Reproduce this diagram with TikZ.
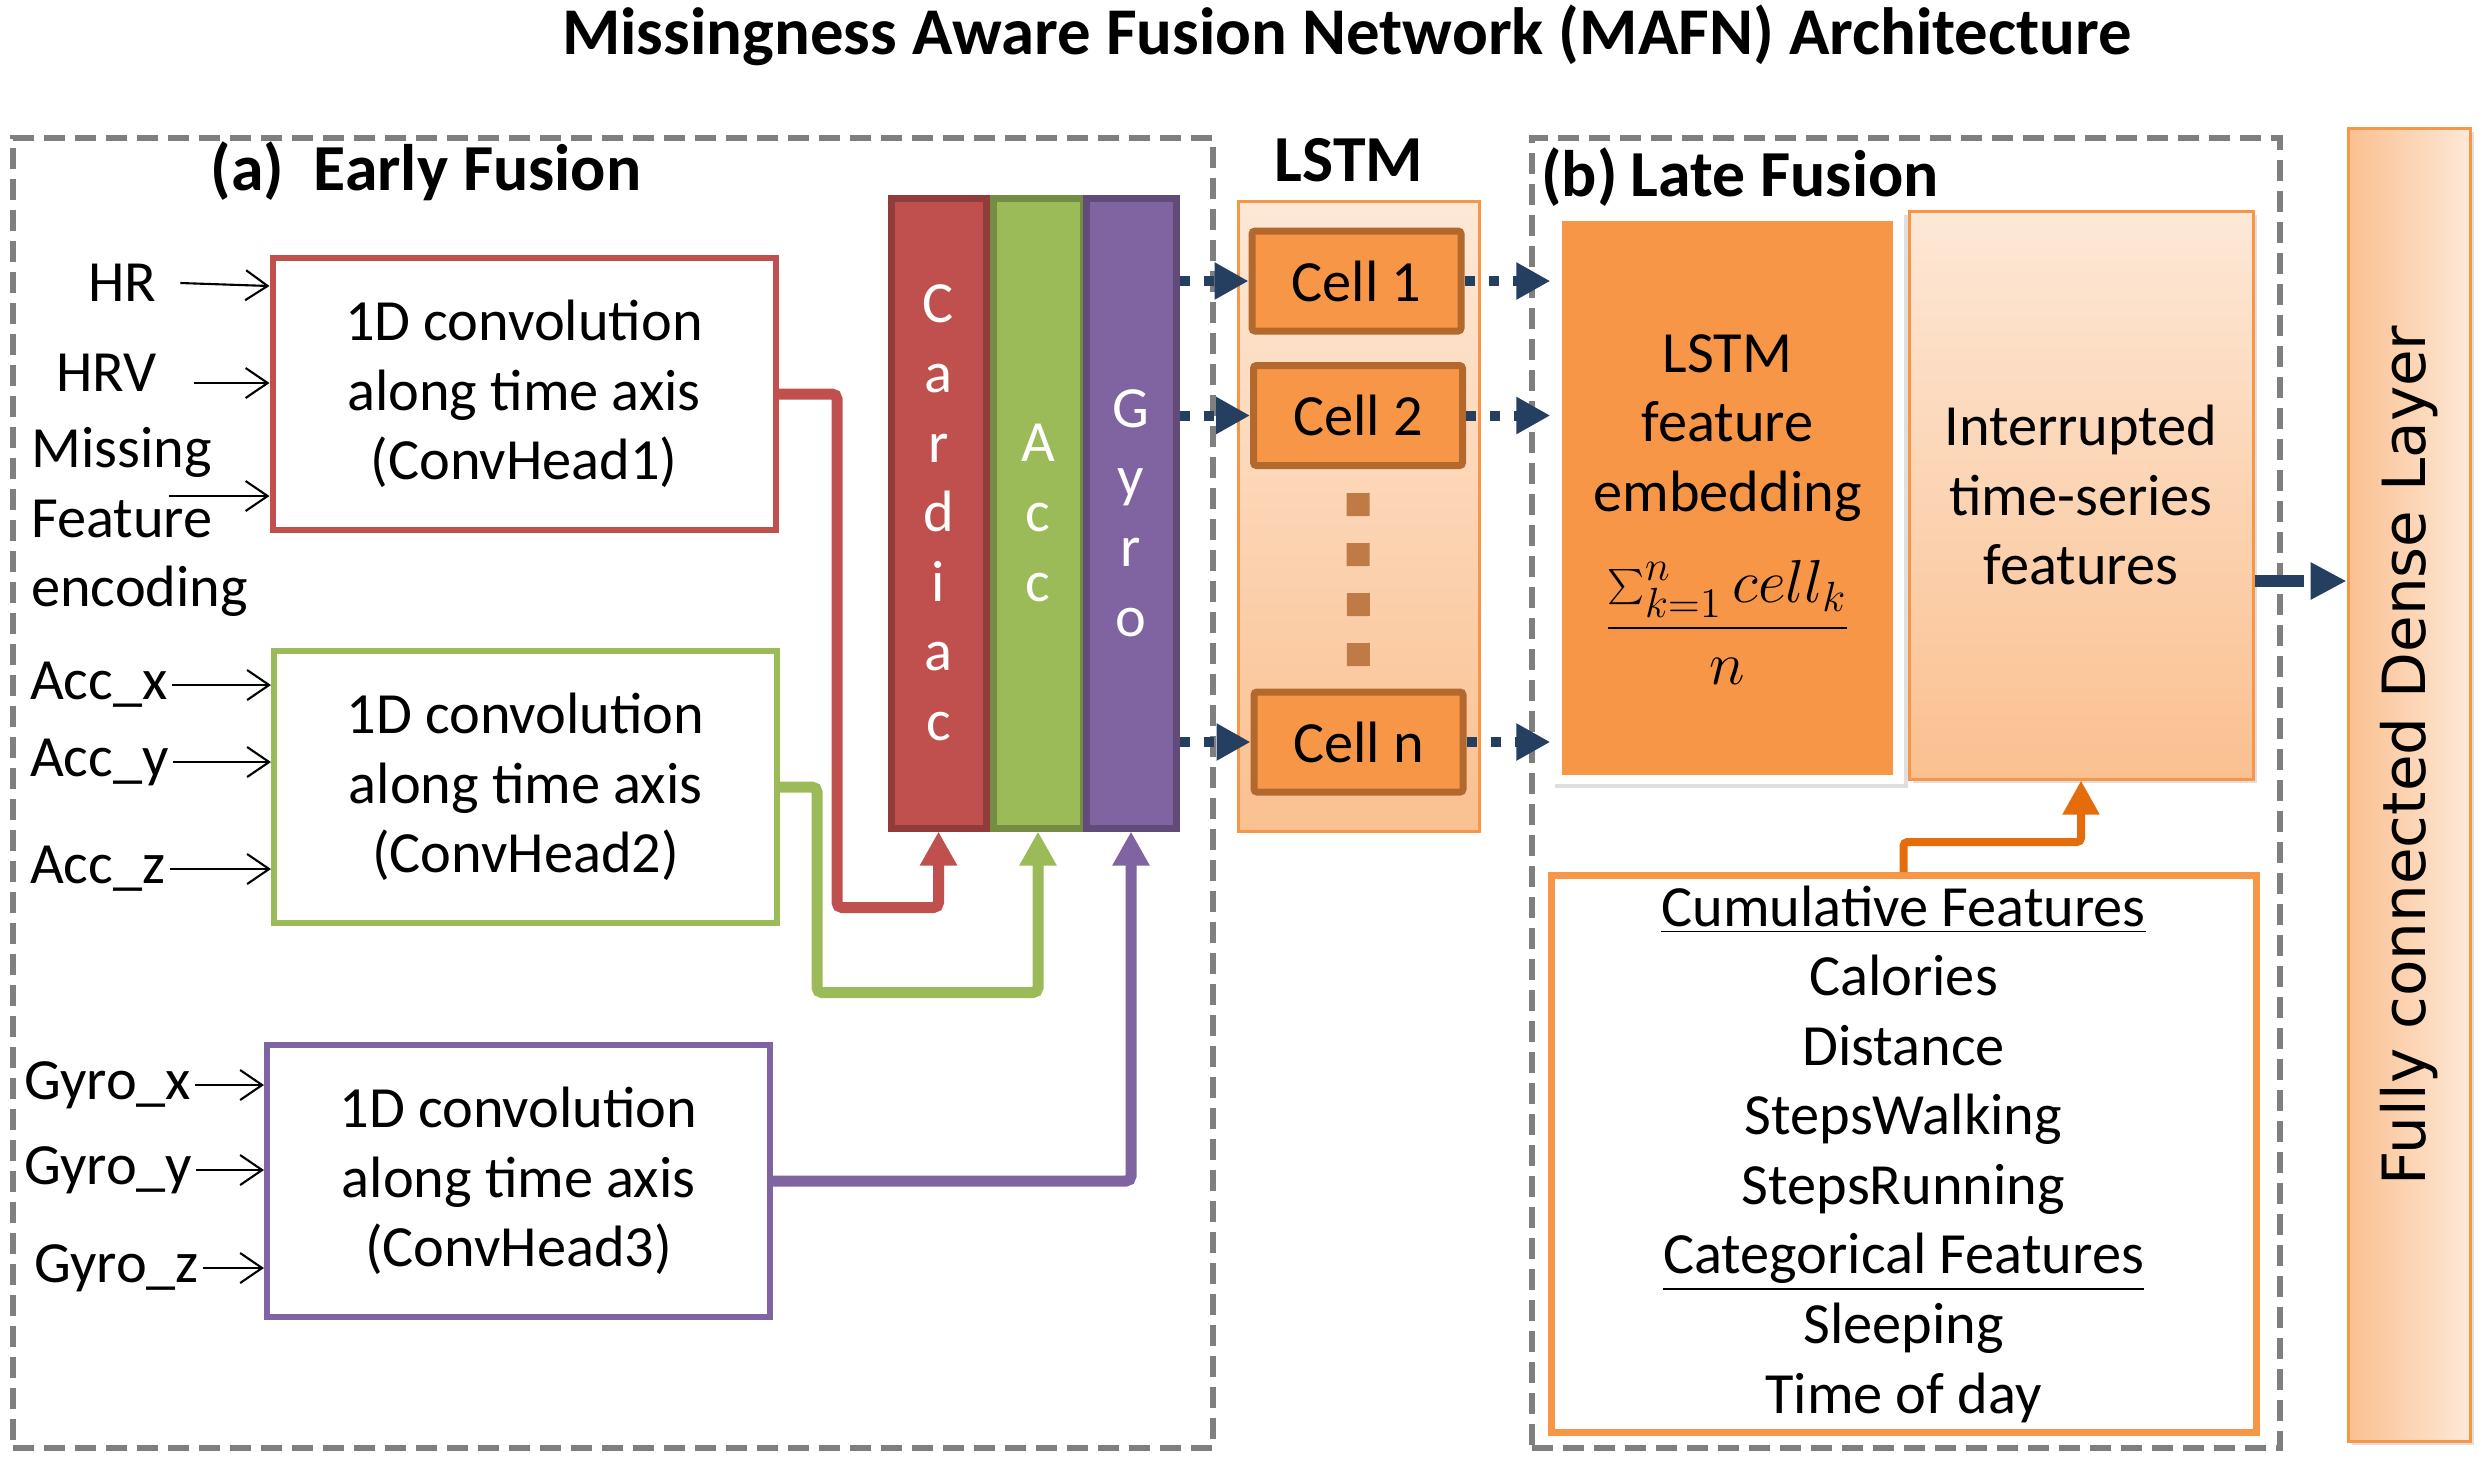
\documentclass[tikz,border=0pt]{standalone}
\usepackage{fontspec}
\setmainfont{Carlito}
\newfontfamily\densefont{DejaVu Sans}
\usetikzlibrary{arrows.meta,calc,positioning,shadows}

\definecolor{cred}{HTML}{C0504D}
\definecolor{cgreen}{HTML}{9BBB59}
\definecolor{cpurple}{HTML}{8064A2}
\definecolor{corange}{HTML}{F79646}
\definecolor{cbrown}{HTML}{B3692D}
\definecolor{cdots}{HTML}{C07A45}
\definecolor{cblue}{HTML}{243F60}
\definecolor{cgrey}{HTML}{7F7F7F}
\definecolor{cdeep}{HTML}{E46C0A}

\begin{document}
\begin{tikzpicture}[font=\fontsize{16.6}{19.8}\selectfont,
                    conv/.style   ={rectangle, draw, line width=0.06cm, fill=white, minimum width=5.03cm, minimum height=2.72cm, align=center, inner sep=0},
                    bar/.style    ={rectangle, line width=0.07cm, minimum width=0.9cm, minimum height=6.3cm, text=white, align=center, inner sep=0},
                    inlbl/.style  ={anchor=west, inner sep=1pt},
                    inarrow/.style={-{Straight Barb[length=0.22cm,width=0.3cm]}, line width=0.6pt},
                    feed/.style   ={-{Triangle[length=0.34cm,width=0.35cm]}, line width=0.11cm, rounded corners=0.05cm},
                    cell/.style   ={rectangle, draw=cbrown, fill=corange, line width=0.07cm, minimum width=2.09cm, minimum height=1.0cm, rounded corners=0.03cm},
                    seq/.style    ={-{Triangle[length=0.34cm,width=0.35cm]}, cblue, line width=0.1cm, dash pattern=on 0.1cm off 0.14cm},
                    zone/.style   ={rectangle, draw=cgrey, line width=0.06cm, dash pattern=on 0.21cm off 0.1cm},
                    soft/.style   ={rectangle, draw=corange, line width=0.03cm, top color=corange!22, bottom color=corange!60},
                    shade/.style  ={drop shadow={opacity=0.25, shadow xshift=0.04cm, shadow yshift=-0.04cm}},
                    heading/.style={font=\fontsize{18.7}{21}\selectfont\bfseries}]

      \useasboundingbox (0, 0) rectangle (24.82, -14.65);
      \node[font=\fontsize{19}{22}\selectfont\bfseries] at(13.47, -0.35) (title) {Missingness Aware Fusion Network (MAFN) Architecture};

      \node[zone, minimum width=12cm, minimum height=13.1cm]   at(6.13, -7.93)  (early)   {};
      \node[heading] at(4.26, -1.71) (earlyttl) {(a)~ Early Fusion};
      \node[conv, draw=cred]    at(5.24, -3.94)  (conv1) {1D convolution\\along time axis\\(ConvHead1)};
      \node[conv, draw=cgreen]  at(5.255,-7.87)  (conv2) {1D convolution\\along time axis\\(ConvHead2)};
      \node[conv, draw=cpurple] at(5.185,-11.81) (conv3) {1D convolution\\along time axis\\(ConvHead3)};

      \node[inlbl] at(0.84, -2.83) (hr)    {HR};
      \node[inlbl] at(0.52, -3.73) (hrv)   {HRV};
      \node[inlbl, align=left] at(0.27, -5.22) (miss) {Missing\\Feature\\encoding};
      \coordinate (missin) at(1.69, -4.96);
      \node[inlbl] at(0.26, -6.85) (accx)  {Acc\_x};
      \node[inlbl] at(0.26, -7.62) (accy)  {Acc\_y};
      \node[inlbl] at(0.26, -8.69) (accz)  {Acc\_z};
      \node[inlbl] at(0.20, -10.85) (gyrx) {Gyro\_x};
      \node[inlbl] at(0.20, -11.70) (gyry) {Gyro\_y};
      \node[inlbl] at(0.30, -12.68) (gyrz) {Gyro\_z};
      \draw[inarrow] ([xshift=0.2cm]hr.east)   -- ([yshift=-0.03cm]hr.east -| conv1.west);
      \draw[inarrow] ([xshift=0.33cm,yshift=-0.1cm]hrv.east) -- ([yshift=-0.1cm]hrv.east -| conv1.west);
      \draw[inarrow] (missin) -- (missin -| conv1.west);
      \draw[inarrow] (accx.east) -- (accx.east -| conv2.west);
      \draw[inarrow] (accy.east) -- (accy.east -| conv2.west);
      \draw[inarrow] (accz.east) -- (accz.east -| conv2.west);
      \draw[inarrow] (gyrx.east) -- (gyrx.east -| conv3.west);
      \draw[inarrow] (gyry.east) -- (gyry.east -| conv3.west);
      \draw[inarrow] (gyrz.east) -- (gyrz.east -| conv3.west);

      \node[bar, draw=cred!75!black, fill=cred, minimum width=0.95cm] at(9.385, -5.13) (card) {C\\a\\r\\d\\i\\a\\c};
      \node[bar, draw=cgreen!75!black, fill=cgreen]   at(10.38, -5.13) (acc)  {A\\c\\c};
      \node[bar, draw=cpurple!75!black, fill=cpurple] at(11.31, -5.13) (gyro) {G\\y\\r\\o};
      \draw[feed, cred]    (conv1.east) -- ++(0.585, 0) |- ($(card.south)+(0, -0.76)$) -- (card.south);
      \draw[feed, cgreen]  (conv2.east) -- ++(0.37, 0)  |- ($(acc.south)+(0, -1.61)$)  -- (acc.south);
      \draw[feed, cpurple] (conv3.east) -| (gyro.south);

      \node[heading] at(13.49, -1.60) (lstmttl) {LSTM};
      \node[soft, minimum width=2.41cm, minimum height=6.3cm] at(13.585, -5.16) (lstm) {};
      \node[cell] at(13.565, -2.81) (cell1) {Cell 1};
      \node[cell] at(13.58, -4.155) (cell2) {Cell 2};
      \node[cell] at(13.585, -7.42) (celln) {Cell n};
      \draw[cdots, line width=0.23cm, dash pattern=on 0.23cm off 0.27cm] ([yshift=-0.24cm]cell2.south) -- (celln.north);
      \draw[seq] (gyro.east |- cell1.west) -- (cell1.west);
      \draw[seq] (gyro.east |- cell2.west) -- (cell2.west);
      \draw[seq] (gyro.east |- celln.west) -- (celln.west);

      \node[zone, minimum width=7.48cm, minimum height=13.1cm] at(19.06, -7.93) (late) {};
      \node[heading] at(17.40, -1.77) (latettl) {(b)\hspace{0.2em}Late Fusion};
      \node[rectangle, fill=white, shade, minimum width=3.53cm, minimum height=5.73cm] at(17.275, -4.975) (embfr) {};
      \node[rectangle, fill=corange, minimum width=3.31cm, minimum height=5.54cm, align=center] at(embfr) (emb)
           {\rule{0pt}{0.62cm}LSTM\\feature\\embedding\\[10pt]{\fontsize{17.5}{20}\selectfont$\displaystyle\frac{\sum_{k=1}^{n} cell_k}{n}$}};
      \node[soft, shade, minimum width=3.44cm, minimum height=5.68cm, align=center] at(20.81, -4.95) (intr) {Interrupted\\time-series\\features};
      \draw[seq] (cell1.east) -- (cell1.east -| embfr.west);
      \draw[seq] (cell2.east) -- (cell2.east -| embfr.west);
      \draw[seq] (celln.east) -- (celln.east -| embfr.west);

      \node[rectangle, draw=corange, line width=0.07cm, fill=white, minimum width=7.05cm, minimum height=5.57cm, inner sep=0, align=center] at(19.035, -11.54) (cum)
           {\underline{Cumulative Features}\\Calories\\Distance\\StepsWalking\\StepsRunning\\\underline{Categorical Features}\\Sleeping\\Time of day};
      \draw[-{Triangle[length=0.34cm,width=0.35cm]}, cdeep, line width=0.08cm, rounded corners=0.04cm] (cum.north) -- ++(0, 0.3) -| (intr.south);

      \node[rectangle, draw=corange, line width=0.03cm, left color=corange!60, right color=corange!22, shade, rotate=90,
            minimum width=13.13cm, minimum height=1.22cm, font=\densefont\fontsize{16.95}{20}\selectfont] at(24.09, -7.845) (dense)
           {\hspace*{0.58cm}Fully connected Dense Layer};
      \draw[-{Triangle[length=0.36cm,width=0.35cm]}, cblue, line width=0.12cm, dash pattern=on 0.49cm off 0.2cm]
           ([yshift=-0.86cm]intr.east) -- ([yshift=-0.86cm]intr.east -| dense.north);
    \end{tikzpicture}
\end{document}
